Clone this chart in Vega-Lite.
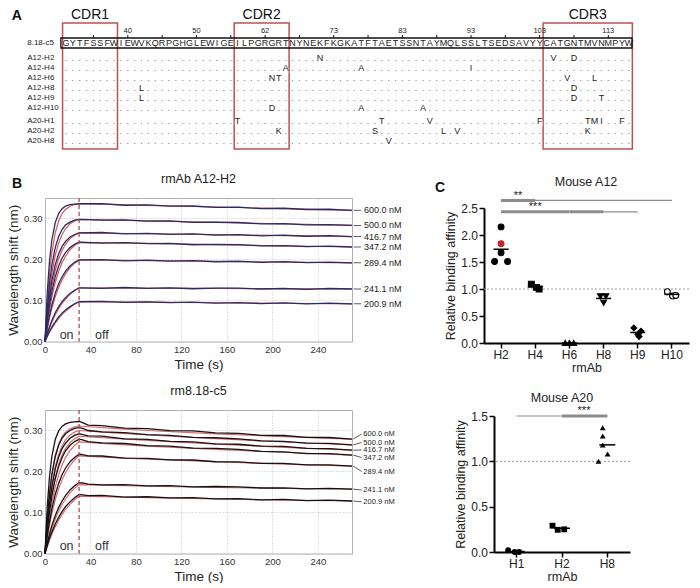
{
"$schema":"https://vega.github.io/schema/vega-lite/v6.json",
"background":"white",
"padding":{"left":6,"top":0,"right":0,"bottom":0},
"spacing":10,
"resolve":{"scale":{"shape":"independent","fill":"independent"}},
"config":{"font":"Liberation Sans","view":{"stroke":null},
"axis":{"titleFontWeight":"normal","labelColor":"#222","titleColor":"#222","labelFlush":false}},
"datasets":{
"seq":[{"i":0,"aa":"G"},{"i":1,"aa":"Y"},{"i":2,"aa":"T"},{"i":3,"aa":"F"},{"i":4,"aa":"S"},{"i":5,"aa":"S"},{"i":6,"aa":"F"},{"i":7,"aa":"W"},{"i":8,"aa":"I"},{"i":9,"aa":"E"},{"i":10,"aa":"W"},{"i":11,"aa":"V"},{"i":12,"aa":"K"},{"i":13,"aa":"Q"},{"i":14,"aa":"R"},{"i":15,"aa":"P"},{"i":16,"aa":"G"},{"i":17,"aa":"H"},{"i":18,"aa":"G"},{"i":19,"aa":"L"},{"i":20,"aa":"E"},{"i":21,"aa":"W"},{"i":22,"aa":"I"},{"i":23,"aa":"G"},{"i":24,"aa":"E"},{"i":25,"aa":"I"},{"i":26,"aa":"L"},{"i":27,"aa":"P"},{"i":28,"aa":"G"},{"i":29,"aa":"R"},{"i":30,"aa":"G"},{"i":31,"aa":"R"},{"i":32,"aa":"T"},{"i":33,"aa":"N"},{"i":34,"aa":"Y"},{"i":35,"aa":"N"},{"i":36,"aa":"E"},{"i":37,"aa":"K"},{"i":38,"aa":"F"},{"i":39,"aa":"K"},{"i":40,"aa":"G"},{"i":41,"aa":"K"},{"i":42,"aa":"A"},{"i":43,"aa":"T"},{"i":44,"aa":"F"},{"i":45,"aa":"T"},{"i":46,"aa":"A"},{"i":47,"aa":"E"},{"i":48,"aa":"T"},{"i":49,"aa":"S"},{"i":50,"aa":"S"},{"i":51,"aa":"N"},{"i":52,"aa":"T"},{"i":53,"aa":"A"},{"i":54,"aa":"Y"},{"i":55,"aa":"M"},{"i":56,"aa":"Q"},{"i":57,"aa":"L"},{"i":58,"aa":"S"},{"i":59,"aa":"S"},{"i":60,"aa":"L"},{"i":61,"aa":"T"},{"i":62,"aa":"S"},{"i":63,"aa":"E"},{"i":64,"aa":"D"},{"i":65,"aa":"S"},{"i":66,"aa":"A"},{"i":67,"aa":"V"},{"i":68,"aa":"Y"},{"i":69,"aa":"Y"},{"i":70,"aa":"C"},{"i":71,"aa":"A"},{"i":72,"aa":"T"},{"i":73,"aa":"G"},{"i":74,"aa":"N"},{"i":75,"aa":"T"},{"i":76,"aa":"M"},{"i":77,"aa":"V"},{"i":78,"aa":"N"},{"i":79,"aa":"M"},{"i":80,"aa":"P"},{"i":81,"aa":"Y"},{"i":82,"aa":"W"}],
"rows":[{"ab":"8.18-c5","r":-0.5},{"ab":"A12-H2","r":1},{"ab":"A12-H4","r":2},{"ab":"A12-H6","r":3},{"ab":"A12-H8","r":4},{"ab":"A12-H9","r":5},{"ab":"A12-H10","r":6},{"ab":"A20-H1","r":7.3},{"ab":"A20-H2","r":8.3},{"ab":"A20-H8","r":9.3}],
"mut":[{"r":1,"i":37,"aa":"N"},{"r":1,"i":71,"aa":"V"},{"r":1,"i":74,"aa":"D"},
{"r":2,"i":32,"aa":"A"},{"r":2,"i":43,"aa":"A"},{"r":2,"i":59,"aa":"I"},
{"r":3,"i":30,"aa":"N"},{"r":3,"i":31,"aa":"T"},{"r":3,"i":73,"aa":"V"},{"r":3,"i":77,"aa":"L"},
{"r":4,"i":11,"aa":"L"},{"r":4,"i":74,"aa":"D"},
{"r":5,"i":11,"aa":"L"},{"r":5,"i":74,"aa":"D"},{"r":5,"i":78,"aa":"T"},
{"r":6,"i":30,"aa":"D"},{"r":6,"i":43,"aa":"A"},{"r":6,"i":52,"aa":"A"},
{"r":7.3,"i":25,"aa":"T"},{"r":7.3,"i":46,"aa":"T"},{"r":7.3,"i":53,"aa":"V"},{"r":7.3,"i":69,"aa":"F"},{"r":7.3,"i":76,"aa":"T"},{"r":7.3,"i":77,"aa":"M"},{"r":7.3,"i":78,"aa":"I"},{"r":7.3,"i":81,"aa":"F"},
{"r":8.3,"i":31,"aa":"K"},{"r":8.3,"i":45,"aa":"S"},{"r":8.3,"i":55,"aa":"L"},{"r":8.3,"i":57,"aa":"V"},{"r":8.3,"i":76,"aa":"K"},
{"r":9.3,"i":47,"aa":"V"}],
"cdr":[{"name":"CDR1","from":-0.5,"to":7.5,"mid":3.5},{"name":"CDR2","from":24.5,"to":32.5,"mid":28.5},{"name":"CDR3","from":69.5,"to":82.5,"mid":76}],
"num":[{"i":4,"n":""},{"i":9,"n":"40"},{"i":14,"n":""},{"i":19,"n":"50"},{"i":24,"n":""},{"i":29,"n":"62"},{"i":34,"n":""},{"i":39,"n":"73"},{"i":44,"n":""},{"i":49,"n":"83"},{"i":54,"n":""},{"i":59,"n":"93"},{"i":64,"n":""},{"i":69,"n":"103"},{"i":74,"n":""},{"i":79,"n":"113"}],
"b1dat":[
{"c":600,"t":0,"v":0},{"c":600,"t":2,"v":0.12},{"c":600,"t":4,"v":0.197},{"c":600,"t":6,"v":0.247},{"c":600,"t":9,"v":0.29},{"c":600,"t":12,"v":0.312},{"c":600,"t":15,"v":0.324},{"c":600,"t":18,"v":0.33},{"c":600,"t":22,"v":0.334},{"c":600,"t":26,"v":0.335},{"c":600,"t":30,"v":0.336},{"c":600,"t":50,"v":0.3362},{"c":600,"t":70,"v":0.3323},{"c":600,"t":90,"v":0.333},{"c":600,"t":110,"v":0.3302},{"c":600,"t":130,"v":0.3305},{"c":600,"t":150,"v":0.327},{"c":600,"t":170,"v":0.3275},{"c":600,"t":190,"v":0.3241},{"c":600,"t":210,"v":0.325},{"c":600,"t":230,"v":0.3219},{"c":600,"t":250,"v":0.3225},{"c":600,"t":270,"v":0.32},
{"c":500,"t":0,"v":0},{"c":500,"t":2,"v":0.082},{"c":500,"t":4,"v":0.142},{"c":500,"t":6,"v":0.185},{"c":500,"t":9,"v":0.229},{"c":500,"t":12,"v":0.256},{"c":500,"t":15,"v":0.273},{"c":500,"t":18,"v":0.284},{"c":500,"t":22,"v":0.291},{"c":500,"t":26,"v":0.296},{"c":500,"t":30,"v":0.298},{"c":500,"t":50,"v":0.2958},{"c":500,"t":70,"v":0.2967},{"c":500,"t":90,"v":0.2938},{"c":500,"t":110,"v":0.294},{"c":500,"t":130,"v":0.2906},{"c":500,"t":150,"v":0.2913},{"c":500,"t":170,"v":0.2903},{"c":500,"t":190,"v":0.287},{"c":500,"t":210,"v":0.2873},{"c":500,"t":230,"v":0.2843},{"c":500,"t":250,"v":0.2853},{"c":500,"t":270,"v":0.283},
{"c":416.7,"t":0,"v":0},{"c":416.7,"t":2,"v":0.062},{"c":416.7,"t":4,"v":0.109},{"c":416.7,"t":6,"v":0.147},{"c":416.7,"t":9,"v":0.187},{"c":416.7,"t":12,"v":0.214},{"c":416.7,"t":15,"v":0.232},{"c":416.7,"t":18,"v":0.244},{"c":416.7,"t":22,"v":0.255},{"c":416.7,"t":26,"v":0.261},{"c":416.7,"t":30,"v":0.265},{"c":416.7,"t":50,"v":0.2658},{"c":416.7,"t":70,"v":0.2625},{"c":416.7,"t":90,"v":0.2638},{"c":416.7,"t":110,"v":0.2615},{"c":416.7,"t":130,"v":0.2625},{"c":416.7,"t":150,"v":0.2595},{"c":416.7,"t":170,"v":0.2606},{"c":416.7,"t":190,"v":0.2578},{"c":416.7,"t":210,"v":0.2593},{"c":416.7,"t":230,"v":0.2567},{"c":416.7,"t":250,"v":0.258},{"c":416.7,"t":270,"v":0.256},
{"c":347.2,"t":0,"v":0},{"c":347.2,"t":2,"v":0.05},{"c":347.2,"t":4,"v":0.09},{"c":347.2,"t":6,"v":0.121},{"c":347.2,"t":9,"v":0.158},{"c":347.2,"t":12,"v":0.184},{"c":347.2,"t":15,"v":0.203},{"c":347.2,"t":18,"v":0.217},{"c":347.2,"t":22,"v":0.229},{"c":347.2,"t":26,"v":0.237},{"c":347.2,"t":30,"v":0.242},{"c":347.2,"t":50,"v":0.24},{"c":347.2,"t":70,"v":0.2413},{"c":347.2,"t":90,"v":0.2386},{"c":347.2,"t":110,"v":0.2392},{"c":347.2,"t":130,"v":0.236},{"c":347.2,"t":150,"v":0.2371},{"c":347.2,"t":170,"v":0.2363},{"c":347.2,"t":190,"v":0.2333},{"c":347.2,"t":210,"v":0.2339},{"c":347.2,"t":230,"v":0.2312},{"c":347.2,"t":250,"v":0.2325},{"c":347.2,"t":270,"v":0.2305},
{"c":289.4,"t":0,"v":0},{"c":289.4,"t":2,"v":0.035},{"c":289.4,"t":4,"v":0.064},{"c":289.4,"t":6,"v":0.089},{"c":289.4,"t":9,"v":0.118},{"c":289.4,"t":12,"v":0.141},{"c":289.4,"t":15,"v":0.158},{"c":289.4,"t":18,"v":0.171},{"c":289.4,"t":22,"v":0.184},{"c":289.4,"t":26,"v":0.193},{"c":289.4,"t":30,"v":0.199},{"c":289.4,"t":50,"v":0.1999},{"c":289.4,"t":70,"v":0.1968},{"c":289.4,"t":90,"v":0.1983},{"c":289.4,"t":110,"v":0.1962},{"c":289.4,"t":130,"v":0.1973},{"c":289.4,"t":150,"v":0.1945},{"c":289.4,"t":170,"v":0.1957},{"c":289.4,"t":190,"v":0.1931},{"c":289.4,"t":210,"v":0.1948},{"c":289.4,"t":230,"v":0.1924},{"c":289.4,"t":250,"v":0.1938},{"c":289.4,"t":270,"v":0.192},
{"c":241.1,"t":0,"v":0},{"c":241.1,"t":2,"v":0.02},{"c":241.1,"t":4,"v":0.036},{"c":241.1,"t":6,"v":0.051},{"c":241.1,"t":9,"v":0.07},{"c":241.1,"t":12,"v":0.085},{"c":241.1,"t":15,"v":0.097},{"c":241.1,"t":18,"v":0.107},{"c":241.1,"t":22,"v":0.117},{"c":241.1,"t":26,"v":0.125},{"c":241.1,"t":30,"v":0.131},{"c":241.1,"t":50,"v":0.1298},{"c":241.1,"t":70,"v":0.1317},{"c":241.1,"t":90,"v":0.1298},{"c":241.1,"t":110,"v":0.131},{"c":241.1,"t":130,"v":0.1286},{"c":241.1,"t":150,"v":0.1303},{"c":241.1,"t":170,"v":0.1303},{"c":241.1,"t":190,"v":0.128},{"c":241.1,"t":210,"v":0.1293},{"c":241.1,"t":230,"v":0.1273},{"c":241.1,"t":250,"v":0.1293},{"c":241.1,"t":270,"v":0.128},
{"c":200.9,"t":0,"v":0},{"c":200.9,"t":2,"v":0.013},{"c":200.9,"t":4,"v":0.025},{"c":200.9,"t":6,"v":0.035},{"c":200.9,"t":9,"v":0.048},{"c":200.9,"t":12,"v":0.06},{"c":200.9,"t":15,"v":0.069},{"c":200.9,"t":18,"v":0.077},{"c":200.9,"t":22,"v":0.085},{"c":200.9,"t":26,"v":0.092},{"c":200.9,"t":30,"v":0.097},{"c":200.9,"t":50,"v":0.0981},{"c":200.9,"t":70,"v":0.0952},{"c":200.9,"t":90,"v":0.0968},{"c":200.9,"t":110,"v":0.0948},{"c":200.9,"t":130,"v":0.0961},{"c":200.9,"t":150,"v":0.0935},{"c":200.9,"t":170,"v":0.0949},{"c":200.9,"t":190,"v":0.0925},{"c":200.9,"t":210,"v":0.0943},{"c":200.9,"t":230,"v":0.092},{"c":200.9,"t":250,"v":0.0936},{"c":200.9,"t":270,"v":0.092}],
"b1fit":[
{"c":600,"t":0,"v":0},{"c":600,"t":2,"v":0.097},{"c":600,"t":4,"v":0.167},{"c":600,"t":6,"v":0.216},{"c":600,"t":9,"v":0.265},{"c":600,"t":12,"v":0.294},{"c":600,"t":15,"v":0.312},{"c":600,"t":18,"v":0.322},{"c":600,"t":22,"v":0.33},{"c":600,"t":26,"v":0.334},{"c":600,"t":30,"v":0.336},{"c":600,"t":90,"v":0.332},{"c":600,"t":150,"v":0.328},{"c":600,"t":210,"v":0.324},{"c":600,"t":270,"v":0.32},
{"c":500,"t":0,"v":0},{"c":500,"t":2,"v":0.07},{"c":500,"t":4,"v":0.123},{"c":500,"t":6,"v":0.165},{"c":500,"t":9,"v":0.21},{"c":500,"t":12,"v":0.24},{"c":500,"t":15,"v":0.261},{"c":500,"t":18,"v":0.275},{"c":500,"t":22,"v":0.287},{"c":500,"t":26,"v":0.294},{"c":500,"t":30,"v":0.298},{"c":500,"t":90,"v":0.2943},{"c":500,"t":150,"v":0.2905},{"c":500,"t":210,"v":0.2868},{"c":500,"t":270,"v":0.283},
{"c":416.7,"t":0,"v":0},{"c":416.7,"t":2,"v":0.054},{"c":416.7,"t":4,"v":0.098},{"c":416.7,"t":6,"v":0.133},{"c":416.7,"t":9,"v":0.173},{"c":416.7,"t":12,"v":0.202},{"c":416.7,"t":15,"v":0.222},{"c":416.7,"t":18,"v":0.237},{"c":416.7,"t":22,"v":0.251},{"c":416.7,"t":26,"v":0.259},{"c":416.7,"t":30,"v":0.265},{"c":416.7,"t":90,"v":0.2628},{"c":416.7,"t":150,"v":0.2605},{"c":416.7,"t":210,"v":0.2583},{"c":416.7,"t":270,"v":0.256},
{"c":347.2,"t":0,"v":0},{"c":347.2,"t":2,"v":0.043},{"c":347.2,"t":4,"v":0.078},{"c":347.2,"t":6,"v":0.108},{"c":347.2,"t":9,"v":0.144},{"c":347.2,"t":12,"v":0.171},{"c":347.2,"t":15,"v":0.192},{"c":347.2,"t":18,"v":0.208},{"c":347.2,"t":22,"v":0.224},{"c":347.2,"t":26,"v":0.234},{"c":347.2,"t":30,"v":0.242},{"c":347.2,"t":90,"v":0.2391},{"c":347.2,"t":150,"v":0.2363},{"c":347.2,"t":210,"v":0.2334},{"c":347.2,"t":270,"v":0.2305},
{"c":289.4,"t":0,"v":0},{"c":289.4,"t":2,"v":0.031},{"c":289.4,"t":4,"v":0.058},{"c":289.4,"t":6,"v":0.08},{"c":289.4,"t":9,"v":0.109},{"c":289.4,"t":12,"v":0.132},{"c":289.4,"t":15,"v":0.15},{"c":289.4,"t":18,"v":0.165},{"c":289.4,"t":22,"v":0.18},{"c":289.4,"t":26,"v":0.191},{"c":289.4,"t":30,"v":0.199},{"c":289.4,"t":90,"v":0.1973},{"c":289.4,"t":150,"v":0.1955},{"c":289.4,"t":210,"v":0.1938},{"c":289.4,"t":270,"v":0.192},
{"c":241.1,"t":0,"v":0},{"c":241.1,"t":2,"v":0.018},{"c":241.1,"t":4,"v":0.033},{"c":241.1,"t":6,"v":0.047},{"c":241.1,"t":9,"v":0.065},{"c":241.1,"t":12,"v":0.08},{"c":241.1,"t":15,"v":0.093},{"c":241.1,"t":18,"v":0.103},{"c":241.1,"t":22,"v":0.115},{"c":241.1,"t":26,"v":0.124},{"c":241.1,"t":30,"v":0.131},{"c":241.1,"t":90,"v":0.1303},{"c":241.1,"t":150,"v":0.1295},{"c":241.1,"t":210,"v":0.1288},{"c":241.1,"t":270,"v":0.128},
{"c":200.9,"t":0,"v":0},{"c":200.9,"t":2,"v":0.012},{"c":200.9,"t":4,"v":0.023},{"c":200.9,"t":6,"v":0.032},{"c":200.9,"t":9,"v":0.045},{"c":200.9,"t":12,"v":0.056},{"c":200.9,"t":15,"v":0.066},{"c":200.9,"t":18,"v":0.074},{"c":200.9,"t":22,"v":0.083},{"c":200.9,"t":26,"v":0.091},{"c":200.9,"t":30,"v":0.097},{"c":200.9,"t":90,"v":0.0958},{"c":200.9,"t":150,"v":0.0945},{"c":200.9,"t":210,"v":0.0933},{"c":200.9,"t":270,"v":0.092}],
"b2dat":[
{"c":600,"t":0,"v":0},{"c":600,"t":2,"v":0.115},{"c":600,"t":4,"v":0.189},{"c":600,"t":6,"v":0.236},{"c":600,"t":9,"v":0.278},{"c":600,"t":12,"v":0.299},{"c":600,"t":15,"v":0.31},{"c":600,"t":18,"v":0.316},{"c":600,"t":22,"v":0.32},{"c":600,"t":26,"v":0.321},{"c":600,"t":30,"v":0.322},{"c":600,"t":33,"v":0.319},{"c":600,"t":38,"v":0.313},{"c":600,"t":50,"v":0.3121},{"c":600,"t":70,"v":0.3059},{"c":600,"t":90,"v":0.3045},{"c":600,"t":110,"v":0.2999},{"c":600,"t":130,"v":0.2989},{"c":600,"t":150,"v":0.294},{"c":600,"t":170,"v":0.2931},{"c":600,"t":190,"v":0.2883},{"c":600,"t":210,"v":0.2878},{"c":600,"t":230,"v":0.2833},{"c":600,"t":250,"v":0.2829},{"c":600,"t":270,"v":0.279},
{"c":500,"t":0,"v":0},{"c":500,"t":2,"v":0.085},{"c":500,"t":4,"v":0.146},{"c":500,"t":6,"v":0.191},{"c":500,"t":9,"v":0.236},{"c":500,"t":12,"v":0.264},{"c":500,"t":15,"v":0.281},{"c":500,"t":18,"v":0.292},{"c":500,"t":22,"v":0.3},{"c":500,"t":26,"v":0.305},{"c":500,"t":30,"v":0.307},{"c":500,"t":33,"v":0.305},{"c":500,"t":38,"v":0.3},{"c":500,"t":50,"v":0.2966},{"c":500,"t":70,"v":0.2949},{"c":500,"t":90,"v":0.2897},{"c":500,"t":110,"v":0.2881},{"c":500,"t":130,"v":0.2831},{"c":500,"t":150,"v":0.2823},{"c":500,"t":170,"v":0.2797},{"c":500,"t":190,"v":0.2749},{"c":500,"t":210,"v":0.2736},{"c":500,"t":230,"v":0.2691},{"c":500,"t":250,"v":0.2688},{"c":500,"t":270,"v":0.265},
{"c":416.7,"t":0,"v":0},{"c":416.7,"t":2,"v":0.068},{"c":416.7,"t":4,"v":0.121},{"c":416.7,"t":6,"v":0.161},{"c":416.7,"t":9,"v":0.206},{"c":416.7,"t":12,"v":0.235},{"c":416.7,"t":15,"v":0.256},{"c":416.7,"t":18,"v":0.269},{"c":416.7,"t":22,"v":0.281},{"c":416.7,"t":26,"v":0.288},{"c":416.7,"t":30,"v":0.292},{"c":416.7,"t":33,"v":0.29},{"c":416.7,"t":38,"v":0.287},{"c":416.7,"t":50,"v":0.2861},{"c":416.7,"t":70,"v":0.2797},{"c":416.7,"t":90,"v":0.2782},{"c":416.7,"t":110,"v":0.2736},{"c":416.7,"t":130,"v":0.2725},{"c":416.7,"t":150,"v":0.2675},{"c":416.7,"t":170,"v":0.2665},{"c":416.7,"t":190,"v":0.2617},{"c":416.7,"t":210,"v":0.2611},{"c":416.7,"t":230,"v":0.2565},{"c":416.7,"t":250,"v":0.256},{"c":416.7,"t":270,"v":0.252},
{"c":347.2,"t":0,"v":0},{"c":347.2,"t":2,"v":0.057},{"c":347.2,"t":4,"v":0.103},{"c":347.2,"t":6,"v":0.14},{"c":347.2,"t":9,"v":0.182},{"c":347.2,"t":12,"v":0.212},{"c":347.2,"t":15,"v":0.234},{"c":347.2,"t":18,"v":0.25},{"c":347.2,"t":22,"v":0.264},{"c":347.2,"t":26,"v":0.273},{"c":347.2,"t":30,"v":0.279},{"c":347.2,"t":33,"v":0.277},{"c":347.2,"t":38,"v":0.273},{"c":347.2,"t":50,"v":0.2697},{"c":347.2,"t":70,"v":0.2683},{"c":347.2,"t":90,"v":0.2633},{"c":347.2,"t":110,"v":0.2618},{"c":347.2,"t":130,"v":0.257},{"c":347.2,"t":150,"v":0.2563},{"c":347.2,"t":170,"v":0.2539},{"c":347.2,"t":190,"v":0.2492},{"c":347.2,"t":210,"v":0.2481},{"c":347.2,"t":230,"v":0.2438},{"c":347.2,"t":250,"v":0.2436},{"c":347.2,"t":270,"v":0.24},
{"c":289.4,"t":0,"v":0},{"c":289.4,"t":2,"v":0.043},{"c":289.4,"t":4,"v":0.078},{"c":289.4,"t":6,"v":0.108},{"c":289.4,"t":9,"v":0.144},{"c":289.4,"t":12,"v":0.171},{"c":289.4,"t":15,"v":0.192},{"c":289.4,"t":18,"v":0.208},{"c":289.4,"t":22,"v":0.224},{"c":289.4,"t":26,"v":0.234},{"c":289.4,"t":30,"v":0.242},{"c":289.4,"t":33,"v":0.241},{"c":289.4,"t":38,"v":0.238},{"c":289.4,"t":50,"v":0.2378},{"c":289.4,"t":70,"v":0.2325},{"c":289.4,"t":90,"v":0.232},{"c":289.4,"t":110,"v":0.2283},{"c":289.4,"t":130,"v":0.228},{"c":289.4,"t":150,"v":0.2238},{"c":289.4,"t":170,"v":0.2236},{"c":289.4,"t":190,"v":0.2196},{"c":289.4,"t":210,"v":0.2198},{"c":289.4,"t":230,"v":0.216},{"c":289.4,"t":250,"v":0.2162},{"c":289.4,"t":270,"v":0.213},
{"c":241.1,"t":0,"v":0},{"c":241.1,"t":2,"v":0.026},{"c":241.1,"t":4,"v":0.048},{"c":241.1,"t":6,"v":0.068},{"c":241.1,"t":9,"v":0.092},{"c":241.1,"t":12,"v":0.112},{"c":241.1,"t":15,"v":0.128},{"c":241.1,"t":18,"v":0.141},{"c":241.1,"t":22,"v":0.155},{"c":241.1,"t":26,"v":0.165},{"c":241.1,"t":30,"v":0.173},{"c":241.1,"t":33,"v":0.172},{"c":241.1,"t":38,"v":0.169},{"c":241.1,"t":50,"v":0.1672},{"c":241.1,"t":70,"v":0.168},{"c":241.1,"t":90,"v":0.1651},{"c":241.1,"t":110,"v":0.1656},{"c":241.1,"t":130,"v":0.1624},{"c":241.1,"t":150,"v":0.1634},{"c":241.1,"t":170,"v":0.1627},{"c":241.1,"t":190,"v":0.1597},{"c":241.1,"t":210,"v":0.1603},{"c":241.1,"t":230,"v":0.1576},{"c":241.1,"t":250,"v":0.159},{"c":241.1,"t":270,"v":0.157},
{"c":200.9,"t":0,"v":0},{"c":200.9,"t":2,"v":0.019},{"c":200.9,"t":4,"v":0.037},{"c":200.9,"t":6,"v":0.052},{"c":200.9,"t":9,"v":0.072},{"c":200.9,"t":12,"v":0.088},{"c":200.9,"t":15,"v":0.102},{"c":200.9,"t":18,"v":0.114},{"c":200.9,"t":22,"v":0.126},{"c":200.9,"t":26,"v":0.136},{"c":200.9,"t":30,"v":0.144},{"c":200.9,"t":33,"v":0.143},{"c":200.9,"t":38,"v":0.141},{"c":200.9,"t":50,"v":0.1416},{"c":200.9,"t":70,"v":0.1377},{"c":200.9,"t":90,"v":0.1384},{"c":200.9,"t":110,"v":0.1357},{"c":200.9,"t":130,"v":0.1364},{"c":200.9,"t":150,"v":0.1331},{"c":200.9,"t":170,"v":0.1339},{"c":200.9,"t":190,"v":0.1308},{"c":200.9,"t":210,"v":0.132},{"c":200.9,"t":230,"v":0.1292},{"c":200.9,"t":250,"v":0.1302},{"c":200.9,"t":270,"v":0.128}],
"b2fit":[
{"c":600,"t":0,"v":0},{"c":600,"t":2,"v":0.086},{"c":600,"t":4,"v":0.148},{"c":600,"t":6,"v":0.193},{"c":600,"t":9,"v":0.239},{"c":600,"t":12,"v":0.267},{"c":600,"t":15,"v":0.285},{"c":600,"t":18,"v":0.296},{"c":600,"t":22,"v":0.304},{"c":600,"t":26,"v":0.309},{"c":600,"t":30,"v":0.311},{"c":600,"t":60,"v":0.305},{"c":600,"t":90,"v":0.3},{"c":600,"t":150,"v":0.292},{"c":600,"t":210,"v":0.285},{"c":600,"t":270,"v":0.279},
{"c":500,"t":0,"v":0},{"c":500,"t":2,"v":0.07},{"c":500,"t":4,"v":0.124},{"c":500,"t":6,"v":0.166},{"c":500,"t":9,"v":0.211},{"c":500,"t":12,"v":0.242},{"c":500,"t":15,"v":0.263},{"c":500,"t":18,"v":0.277},{"c":500,"t":22,"v":0.289},{"c":500,"t":26,"v":0.296},{"c":500,"t":30,"v":0.3},{"c":500,"t":60,"v":0.294},{"c":500,"t":90,"v":0.289},{"c":500,"t":150,"v":0.28},{"c":500,"t":210,"v":0.272},{"c":500,"t":270,"v":0.265},
{"c":416.7,"t":0,"v":0},{"c":416.7,"t":2,"v":0.059},{"c":416.7,"t":4,"v":0.106},{"c":416.7,"t":6,"v":0.144},{"c":416.7,"t":9,"v":0.186},{"c":416.7,"t":12,"v":0.218},{"c":416.7,"t":15,"v":0.24},{"c":416.7,"t":18,"v":0.256},{"c":416.7,"t":22,"v":0.271},{"c":416.7,"t":26,"v":0.28},{"c":416.7,"t":30,"v":0.286},{"c":416.7,"t":60,"v":0.281},{"c":416.7,"t":90,"v":0.276},{"c":416.7,"t":150,"v":0.267},{"c":416.7,"t":210,"v":0.259},{"c":416.7,"t":270,"v":0.252},
{"c":347.2,"t":0,"v":0},{"c":347.2,"t":2,"v":0.048},{"c":347.2,"t":4,"v":0.088},{"c":347.2,"t":6,"v":0.122},{"c":347.2,"t":9,"v":0.162},{"c":347.2,"t":12,"v":0.192},{"c":347.2,"t":15,"v":0.216},{"c":347.2,"t":18,"v":0.234},{"c":347.2,"t":22,"v":0.251},{"c":347.2,"t":26,"v":0.264},{"c":347.2,"t":30,"v":0.272},{"c":347.2,"t":60,"v":0.267},{"c":347.2,"t":90,"v":0.262},{"c":347.2,"t":150,"v":0.254},{"c":347.2,"t":210,"v":0.247},{"c":347.2,"t":270,"v":0.24},
{"c":289.4,"t":0,"v":0},{"c":289.4,"t":2,"v":0.037},{"c":289.4,"t":4,"v":0.069},{"c":289.4,"t":6,"v":0.096},{"c":289.4,"t":9,"v":0.131},{"c":289.4,"t":12,"v":0.158},{"c":289.4,"t":15,"v":0.179},{"c":289.4,"t":18,"v":0.197},{"c":289.4,"t":22,"v":0.215},{"c":289.4,"t":26,"v":0.228},{"c":289.4,"t":30,"v":0.238},{"c":289.4,"t":60,"v":0.234},{"c":289.4,"t":90,"v":0.23},{"c":289.4,"t":150,"v":0.224},{"c":289.4,"t":210,"v":0.218},{"c":289.4,"t":270,"v":0.213},
{"c":241.1,"t":0,"v":0},{"c":241.1,"t":2,"v":0.023},{"c":241.1,"t":4,"v":0.043},{"c":241.1,"t":6,"v":0.061},{"c":241.1,"t":9,"v":0.084},{"c":241.1,"t":12,"v":0.103},{"c":241.1,"t":15,"v":0.119},{"c":241.1,"t":18,"v":0.133},{"c":241.1,"t":22,"v":0.148},{"c":241.1,"t":26,"v":0.159},{"c":241.1,"t":30,"v":0.168},{"c":241.1,"t":60,"v":0.166},{"c":241.1,"t":90,"v":0.164},{"c":241.1,"t":150,"v":0.161},{"c":241.1,"t":210,"v":0.159},{"c":241.1,"t":270,"v":0.157},
{"c":200.9,"t":0,"v":0},{"c":200.9,"t":2,"v":0.017},{"c":200.9,"t":4,"v":0.033},{"c":200.9,"t":6,"v":0.047},{"c":200.9,"t":9,"v":0.065},{"c":200.9,"t":12,"v":0.081},{"c":200.9,"t":15,"v":0.095},{"c":200.9,"t":18,"v":0.107},{"c":200.9,"t":22,"v":0.12},{"c":200.9,"t":26,"v":0.131},{"c":200.9,"t":30,"v":0.14},{"c":200.9,"t":60,"v":0.138},{"c":200.9,"t":90,"v":0.136},{"c":200.9,"t":150,"v":0.133},{"c":200.9,"t":210,"v":0.13},{"c":200.9,"t":270,"v":0.128}],
"b2lab":[{"c":600,"e":0.279,"at":0.2915},{"c":500,"e":0.265,"at":0.2707},{"c":416.7,"e":0.252,"at":0.2524},{"c":347.2,"e":0.24,"at":0.2341},{"c":289.4,"e":0.213,"at":0.2},{"c":241.1,"e":0.157,"at":0.155},{"c":200.9,"e":0.128,"at":0.126}],
"c1":[{"ab":"H2","s":0,"v":2.15},{"ab":"H2","s":0,"v":1.84,"ref":true},{"ab":"H2","s":0,"v":1.67},{"ab":"H2","s":-1,"v":1.51},{"ab":"H2","s":1,"v":1.51},
{"ab":"H4","s":-0.6,"v":1.09},{"ab":"H4","s":0.2,"v":1.03},{"ab":"H4","s":0.6,"v":1.0},
{"ab":"H6","s":-0.65,"v":0},{"ab":"H6","s":0,"v":0},{"ab":"H6","s":0.65,"v":0},
{"ab":"H8","s":-0.5,"v":0.865},{"ab":"H8","s":0.35,"v":0.865},{"ab":"H8","s":0,"v":0.745},
{"ab":"H9","s":-0.6,"v":0.28},{"ab":"H9","s":0.5,"v":0.22},{"ab":"H9","s":0,"v":0.16},{"ab":"H9","s":0.2,"v":0.12},
{"ab":"H10","s":-0.7,"v":0.95},{"ab":"H10","s":0.1,"v":0.87},{"ab":"H10","s":0.6,"v":0.88}],
"c2":[{"ab":"H1","s":-0.45,"v":0.02},{"ab":"H1","s":0.55,"v":0},{"ab":"H1","s":1.25,"v":0},
{"ab":"H2","s":-0.6,"v":0.29},{"ab":"H2","s":0.2,"v":0.245},{"ab":"H2","s":1.2,"v":0.25},
{"ab":"H8","s":0.15,"v":1.37},{"ab":"H8","s":0.15,"v":1.28},{"ab":"H8","s":0.15,"v":1.18},{"ab":"H8","s":0.9,"v":1.08},{"ab":"H8","s":-0.5,"v":1.0}]
},
"vconcat":[
{
"width":640,"height":162,
"layer":[
{"data":{"name":"cdr"},"mark":{"type":"rect","filled":false,"color":"#c0504d","strokeWidth":1.5},
"encoding":{"x":{"field":"from","type":"quantitative","scale":{"domain":[-3.06,90.17],"nice":false,"zero":false},"axis":null},"x2":{"field":"to"},
"y":{"datum":-2.5,"type":"quantitative","scale":{"domain":[-4.8,11.4],"nice":false,"zero":false,"reverse":true},"axis":null},"y2":{"datum":10.1}}},
{"data":{"name":"cdr"},"mark":{"type":"text","fontSize":14,"color":"#111","baseline":"middle"},
"encoding":{"x":{"field":"mid","type":"quantitative"},"y":{"datum":-3.3,"type":"quantitative"},"text":{"field":"name"}}},
{"data":{"values":[{}]},"mark":{"type":"rect","filled":false,"color":"#111","strokeWidth":1.3},
"encoding":{"x":{"datum":-0.75,"type":"quantitative"},"x2":{"datum":82.45},"y":{"datum":-1.0,"type":"quantitative"},"y2":{"datum":0.0}}},
{"data":{"name":"num"},"mark":{"type":"rule","color":"#111","strokeWidth":1},
"encoding":{"x":{"field":"i","type":"quantitative"},"y":{"datum":-1.3,"type":"quantitative"},"y2":{"datum":-1.0}}},
{"data":{"name":"num"},"mark":{"type":"text","fontSize":7.5,"color":"#222","baseline":"middle","font":"Liberation Sans Narrow, Liberation Sans"},
"encoding":{"x":{"field":"i","type":"quantitative"},"y":{"datum":-1.75,"type":"quantitative"},"text":{"field":"n"}}},
{"data":{"name":"seq"},"mark":{"type":"text","fontSize":9,"color":"#222","baseline":"middle","font":"Liberation Sans Narrow, Liberation Sans"},
"encoding":{"x":{"field":"i","type":"quantitative"},"y":{"datum":-0.5,"type":"quantitative"},"text":{"field":"aa"}}},
{"data":{"name":"rows"},"mark":{"type":"text","align":"left","fontSize":8,"color":"#222","baseline":"middle","font":"Liberation Sans Narrow, Liberation Sans"},
"encoding":{"x":{"datum":-5.65,"type":"quantitative"},"y":{"field":"r","type":"quantitative"},"text":{"field":"ab"}}},
{"data":{"name":"rows"},"transform":[{"filter":"datum.r > 0"}],"mark":{"type":"rule","color":"#9a9a9a","strokeWidth":1.2,"strokeDash":[1.3,5.5645],"yOffset":2.5},
"encoding":{"x":{"datum":-0.095,"type":"quantitative"},"x2":{"datum":82.1},"y":{"field":"r","type":"quantitative"}}},
{"data":{"name":"mut"},"mark":{"type":"square","color":"white","opacity":1,"size":30,"yOffset":2.5},
"encoding":{"x":{"field":"i","type":"quantitative"},"y":{"field":"r","type":"quantitative"}}},
{"data":{"name":"mut"},"mark":{"type":"text","fontSize":9,"color":"#222","baseline":"middle","font":"Liberation Sans Narrow, Liberation Sans"},
"encoding":{"x":{"field":"i","type":"quantitative"},"y":{"field":"r","type":"quantitative"},"text":{"field":"aa"}}},
{"data":{"values":[{}]},"mark":{"type":"text","text":"A","fontSize":14,"fontWeight":"bold","align":"left","baseline":"middle","color":"#111"},
"encoding":{"x":{"datum":-7.92,"type":"quantitative"},"y":{"datum":-3.2,"type":"quantitative"}}}
]},
{"hconcat":[
{"width":307,"height":143.5,"view":{"stroke":"#b0b0b0"},
"layer":[
{"data":{"name":"b1fit"},"mark":{"type":"line","color":"#d9575b","strokeWidth":1.2},
"encoding":{"x":{"field":"t","type":"quantitative","scale":{"domain":[0,270],"nice":false},
"axis":{"values":[0,20,40,60,80,100,120,140,160,180,200,220,240,260],"grid":true,"gridColor":"#c4c4c4","gridDash":[1,2],"domain":false,"ticks":false,"labelFontSize":9.5,"labelPadding":3,"labelColor":"#333","title":"Time (s)","titleFontSize":13.5,"titlePadding":3}},
"y":{"field":"v","type":"quantitative","scale":{"domain":[0,0.35],"nice":false},
"axis":{"values":[0,0.05,0.1,0.15,0.2,0.25,0.3,0.35],"format":".2f","grid":true,"gridColor":"#c4c4c4","gridDash":[1,2],"domain":false,"ticks":false,"labelFontSize":9.5,"labelPadding":3,"labelColor":"#333","title":"Wavelength shift (nm)","titleFontSize":13.5,"titlePadding":3}},
"detail":{"field":"c","type":"nominal"}}},
{"data":{"name":"b1dat"},"mark":{"type":"line","color":"#2b2c63","strokeWidth":1.3},
"encoding":{"x":{"field":"t","type":"quantitative"},"y":{"field":"v","type":"quantitative"},"detail":{"field":"c","type":"nominal"}}},
{"data":{"values":[{}]},"mark":{"type":"rule","color":"#b8474c","strokeDash":[4,3],"strokeWidth":1.3},"encoding":{"x":{"datum":30}}},
{"data":{"values":[{}]},"mark":{"type":"text","text":"on","fontSize":12.5,"color":"#333"},"encoding":{"x":{"datum":19},"y":{"datum":0.016}}},
{"data":{"values":[{}]},"mark":{"type":"text","text":"off","fontSize":12.5,"color":"#333"},"encoding":{"x":{"datum":50},"y":{"datum":0.016}}},
{"data":{"values":[{}]},"mark":{"type":"text","text":"rmAb A12-H2","fontSize":12.5,"color":"#222","baseline":"middle"},"encoding":{"x":{"datum":135},"y":{"datum":0.3963}}},
{"data":{"name":"b1dat"},"transform":[{"filter":"datum.t == 270"},{"calculate":"format(datum.c, '.1f') + ' nM'","as":"lab"}],
"layer":[
{"mark":{"type":"rule","color":"#333","strokeWidth":0.8},"encoding":{"x":{"datum":271.5},"x2":{"datum":278},"y":{"field":"v","type":"quantitative"}}},
{"mark":{"type":"text","align":"left","baseline":"middle","fontSize":9,"color":"#222"},"encoding":{"x":{"datum":280.5},"y":{"field":"v","type":"quantitative"},"text":{"field":"lab"}}}]},
{"data":{"values":[{}]},"mark":{"type":"text","text":"B","fontSize":14,"fontWeight":"bold","align":"left","baseline":"middle","color":"#111"},"encoding":{"x":{"datum":-29},"y":{"datum":0.384}}}
]},
{"width":205,"height":145,
"layer":[
{"data":{"values":[{}]},"mark":{"type":"rule","color":"#9a9a9a","strokeDash":[2,2],"strokeWidth":1},
"encoding":{"y":{"datum":1,"type":"quantitative","scale":{"domain":[0,2.5],"nice":false,"range":[145,10]},
"axis":{"values":[0,0.5,1,1.5,2,2.5],"tickCount":6,"format":".1f","labelOverlap":false,"title":"Relative binding affinity","labelFontSize":12,"titleFontSize":12.5,"labelPadding":1.5,"titlePadding":3,"domainColor":"#000","domainWidth":2,"tickColor":"#000","tickWidth":1.5,"tickSize":5,"grid":false}}}},
{"data":{"name":"c1"},"mark":{"type":"point","filled":true,"opacity":1,"size":34,"strokeWidth":1.1},
"encoding":{
"x":{"field":"ab","type":"nominal","scale":{"domain":["H2","H4","H6","H8","H9","H10"],"paddingInner":0,"paddingOuter":0},
"axis":{"title":"rmAb","labelAngle":0,"labelFontSize":12,"titleFontSize":12.5,"labelPadding":1,"titlePadding":1,"domainColor":"#000","domainWidth":2,"tickColor":"#000","tickWidth":1.5,"tickSize":5}},
"xOffset":{"field":"s","type":"quantitative","scale":{"domain":[-1,1],"range":[10.58,23.58]}},
"y":{"field":"v","type":"quantitative"},
"shape":{"field":"ab","type":"nominal","scale":{"domain":["H2","H4","H6","H8","H9","H10"],"range":["circle","square","triangle-up","triangle-down","diamond","circle"]},"legend":null},
"fill":{"condition":{"test":"datum.ref","value":"#c1272d"},"field":"ab","type":"nominal","scale":{"domain":["H2","H4","H6","H8","H9","H10"],"range":["#000","#000","#000","#000","#000","#fff"]},"legend":null},
"stroke":{"condition":{"test":"datum.ref","value":"#c1272d"},"value":"#000"}}},
{"data":{"name":"c1"},"mark":{"type":"tick","color":"#000","thickness":1.5,"size":15},
"encoding":{"x":{"field":"ab","type":"nominal"},"y":{"aggregate":"mean","field":"v","type":"quantitative"}}},
{"data":{"values":[{"from":"H2","to":"H4","level":2.64},{"from":"H2","to":"H6","level":2.43},{"from":"H6","to":"H8","level":2.43}]},
"mark":{"type":"rule","color":"#8c8c8c","strokeWidth":3},
"encoding":{"x":{"field":"from","type":"nominal"},"x2":{"field":"to"},"y":{"field":"level","type":"quantitative"}}},
{"data":{"values":[{"from":"H4","to":"H10","level":2.64},{"from":"H8","to":"H9","level":2.43}]},
"mark":{"type":"rule","color":"#8c8c8c","strokeWidth":1.2},
"encoding":{"x":{"field":"from","type":"nominal"},"x2":{"field":"to"},"y":{"field":"level","type":"quantitative"}}},
{"data":{"values":[{}]},"mark":{"type":"text","text":"**","fontSize":11,"dx":17,"baseline":"alphabetic","color":"#222"},"encoding":{"x":{"datum":"H2","type":"nominal"},"y":{"datum":2.675,"type":"quantitative"}}},
{"data":{"values":[{}]},"mark":{"type":"text","text":"***","fontSize":11,"baseline":"alphabetic","color":"#222"},"encoding":{"x":{"datum":"H4","type":"nominal"},"y":{"datum":2.465,"type":"quantitative"}}},
{"data":{"values":[{}]},"mark":{"type":"text","text":"Mouse A12","fontSize":12.5,"dx":16.6,"baseline":"middle","color":"#222"},"encoding":{"x":{"datum":"H6","type":"nominal"},"y":{"datum":2.98,"type":"quantitative"}}},
{"data":{"values":[{}]},"mark":{"type":"text","text":"C","fontSize":14,"fontWeight":"bold","align":"left","baseline":"middle","dx":-66,"color":"#111"},"encoding":{"x":{"datum":"H2","type":"nominal"},"y":{"datum":2.87,"type":"quantitative"}}}
]}
],"spacing":33},
{"hconcat":[
{"width":307,"height":143.5,"view":{"stroke":"#b0b0b0"},
"layer":[
{"data":{"name":"b2fit"},"mark":{"type":"line","color":"#dd6a6e","strokeWidth":1.2},
"encoding":{"x":{"field":"t","type":"quantitative","scale":{"domain":[0,270],"nice":false},
"axis":{"values":[0,20,40,60,80,100,120,140,160,180,200,220,240,260],"grid":true,"gridColor":"#c4c4c4","gridDash":[1,2],"domain":false,"ticks":false,"labelFontSize":9.5,"labelPadding":3,"labelColor":"#333","title":"Time (s)","titleFontSize":13.5,"titlePadding":3}},
"y":{"field":"v","type":"quantitative","scale":{"domain":[0,0.35],"nice":false},
"axis":{"values":[0,0.05,0.1,0.15,0.2,0.25,0.3,0.35],"format":".2f","grid":true,"gridColor":"#c4c4c4","gridDash":[1,2],"domain":false,"ticks":false,"labelFontSize":9.5,"labelPadding":3,"labelColor":"#333","title":"Wavelength shift (nm)","titleFontSize":13.5,"titlePadding":3}},
"detail":{"field":"c","type":"nominal"}}},
{"data":{"name":"b2dat"},"mark":{"type":"line","color":"#141414","strokeWidth":1.3},
"encoding":{"x":{"field":"t","type":"quantitative"},"y":{"field":"v","type":"quantitative"},"detail":{"field":"c","type":"nominal"}}},
{"data":{"values":[{}]},"mark":{"type":"rule","color":"#b8474c","strokeDash":[4,3],"strokeWidth":1.3},"encoding":{"x":{"datum":30}}},
{"data":{"values":[{}]},"mark":{"type":"text","text":"on","fontSize":12.5,"color":"#333"},"encoding":{"x":{"datum":19},"y":{"datum":0.018}}},
{"data":{"values":[{}]},"mark":{"type":"text","text":"off","fontSize":12.5,"color":"#333"},"encoding":{"x":{"datum":50},"y":{"datum":0.018}}},
{"data":{"values":[{}]},"mark":{"type":"text","text":"rm8.18-c5","fontSize":12.5,"color":"#222","baseline":"middle"},"encoding":{"x":{"datum":135},"y":{"datum":0.3963}}},
{"data":{"name":"b2lab"},"transform":[{"calculate":"format(datum.c, '.1f') + ' nM'","as":"lab"}],
"layer":[
{"mark":{"type":"rule","color":"#333","strokeWidth":0.8},"encoding":{"x":{"datum":271},"x2":{"datum":278.5},"y":{"field":"e","type":"quantitative"},"y2":{"field":"at"}}},
{"mark":{"type":"text","align":"left","baseline":"middle","fontSize":7.5,"color":"#222"},"encoding":{"x":{"datum":280},"y":{"field":"at","type":"quantitative"},"text":{"field":"lab"}}}]}
]},
{"width":136,"height":142,
"layer":[
{"data":{"values":[{}]},"mark":{"type":"rule","color":"#9a9a9a","strokeDash":[2,2],"strokeWidth":1},
"encoding":{"y":{"datum":1,"type":"quantitative","scale":{"domain":[0,1.5],"nice":false,"range":[142,6]},
"axis":{"values":[0,0.5,1,1.5],"format":".1f","labelOverlap":false,"title":"Relative binding affinity","labelFontSize":12,"titleFontSize":12.5,"labelPadding":1.5,"titlePadding":3,"domainColor":"#000","domainWidth":2,"tickColor":"#000","tickWidth":1.5,"tickSize":5,"grid":false}}}},
{"data":{"name":"c2"},"mark":{"type":"point","filled":true,"opacity":1,"size":34,"color":"#000"},
"encoding":{
"x":{"field":"ab","type":"nominal","scale":{"domain":["H1","H2","H8"],"paddingInner":0,"paddingOuter":0},
"axis":{"title":"rmAb","labelAngle":0,"labelFontSize":12,"titleFontSize":12.5,"labelPadding":1,"titlePadding":1,"domainColor":"#000","domainWidth":2,"tickColor":"#000","tickWidth":1.5,"tickSize":5}},
"xOffset":{"field":"s","type":"quantitative","scale":{"domain":[-1,1],"range":[16.17,29.17]}},
"y":{"field":"v","type":"quantitative"},
"shape":{"field":"ab","type":"nominal","scale":{"domain":["H1","H2","H8"],"range":["circle","square","triangle-up"]},"legend":null}}},
{"data":{"name":"c2"},"mark":{"type":"tick","color":"#000","thickness":1.5,"size":16},
"encoding":{"x":{"field":"ab","type":"nominal"},"y":{"aggregate":"mean","field":"v","type":"quantitative"}}},
{"data":{"values":[{"from":"H1","to":"H2","level":1.5}]},"mark":{"type":"rule","color":"#8c8c8c","strokeWidth":1.2},
"encoding":{"x":{"field":"from","type":"nominal"},"x2":{"field":"to"},"y":{"field":"level","type":"quantitative"}}},
{"data":{"values":[{"from":"H2","to":"H8","level":1.5}]},"mark":{"type":"rule","color":"#8c8c8c","strokeWidth":3},
"encoding":{"x":{"field":"from","type":"nominal"},"x2":{"field":"to"},"y":{"field":"level","type":"quantitative"}}},
{"data":{"values":[{}]},"mark":{"type":"text","text":"***","fontSize":11,"dx":22,"baseline":"alphabetic","color":"#222"},"encoding":{"x":{"datum":"H2","type":"nominal"},"y":{"datum":1.522,"type":"quantitative"}}},
{"data":{"values":[{}]},"mark":{"type":"text","text":"Mouse A20","fontSize":12.5,"baseline":"middle","color":"#222"},"encoding":{"x":{"datum":"H2","type":"nominal"},"y":{"datum":1.7,"type":"quantitative"}}}
]}
],"spacing":58}
]
}
